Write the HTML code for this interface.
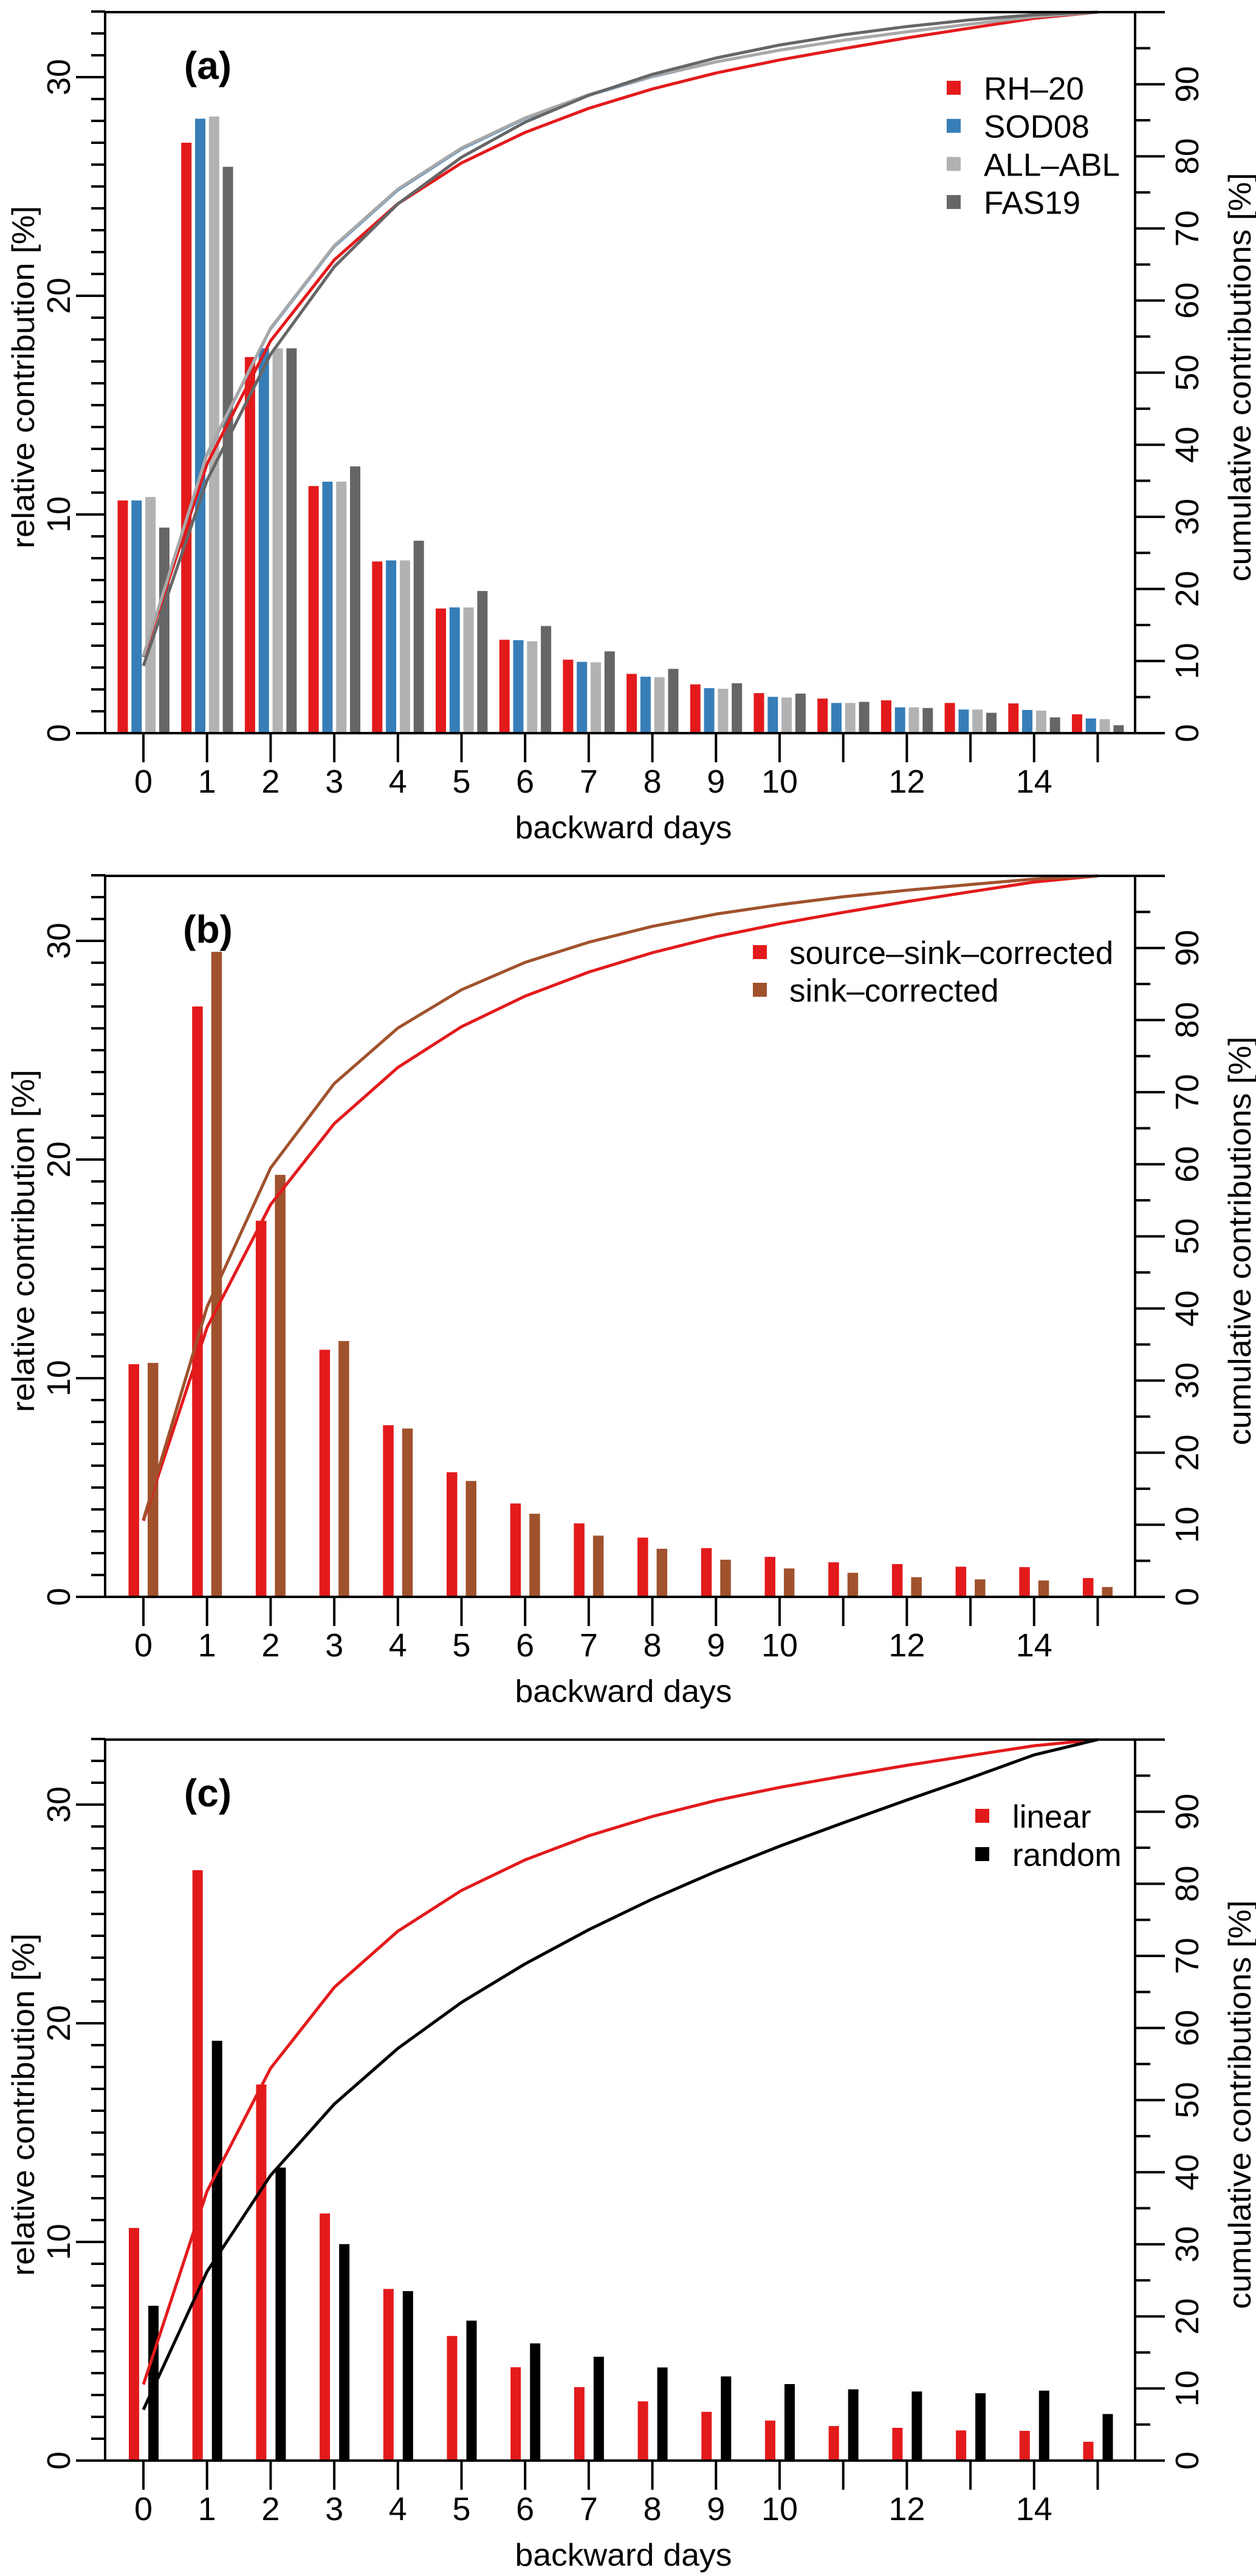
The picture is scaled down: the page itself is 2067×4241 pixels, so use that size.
<!DOCTYPE html>
<html><head><meta charset="utf-8"><title>Backward days contributions</title>
<style>
html,body{margin:0;padding:0;background:#fff;}
svg{display:block;font-family:"Liberation Sans",Arial,sans-serif;}
</style></head>
<body>
<svg id="fig" width="2067" height="4241" viewBox="0 0 2067 4241" xmlns="http://www.w3.org/2000/svg"></svg>
<script>
// ---- data ----
const days = [0,1,2,3,4,5,6,7,8,9,10,11,12,13,14,15];
const xTickLabels = ["0","1","2","3","4","5","6","7","8","9","10","","12","","14",""];
const leftTicks = [0,10,20,30];
const rightTicks = [0,10,20,30,40,50,60,70,80,90];
// panel a
const rh20   = [10.64,27.0,17.2,11.3,7.85,5.7,4.27,3.36,2.71,2.23,1.83,1.58,1.5,1.38,1.36,0.86];
const sod08  = [10.64,28.1,17.6,11.5,7.9,5.75,4.25,3.26,2.58,2.06,1.66,1.38,1.18,1.08,1.06,0.67];
const allabl = [10.8,28.2,17.6,11.5,7.9,5.75,4.2,3.24,2.56,2.03,1.63,1.38,1.18,1.08,1.03,0.64];
const fas19  = [9.4,25.9,17.6,12.2,8.8,6.5,4.9,3.74,2.94,2.28,1.81,1.43,1.15,0.93,0.72,0.36];
// panel b
const sourceSink = [10.64,27.0,17.2,11.3,7.85,5.7,4.27,3.36,2.71,2.23,1.83,1.58,1.5,1.38,1.36,0.86];
const sinkCorr   = [10.7,29.5,19.3,11.7,7.7,5.3,3.8,2.8,2.2,1.7,1.3,1.1,0.9,0.8,0.75,0.45];
// panel c
const linearV = [10.64,27.0,17.2,11.3,7.85,5.7,4.27,3.36,2.71,2.23,1.83,1.58,1.5,1.38,1.36,0.86];
const randomV = [7.08,19.2,13.4,9.9,7.75,6.4,5.36,4.75,4.26,3.85,3.5,3.26,3.16,3.08,3.2,2.13];

const NS = "http://www.w3.org/2000/svg";
const svg = document.getElementById('fig');
function mk(tag, attrs, parent){
  const e = document.createElementNS(NS, tag);
  for (const k in attrs) e.setAttribute(k, attrs[k]);
  (parent||svg).appendChild(e);
  return e;
}
const X0 = 173, X1 = 1868;
function xs(d){ return 236 + 104.7*d; }

function panel(cfg){
  const top = cfg.top, zero = top + 1187;
  const yL = v => zero - 36*v;
  const yR = v => zero - 11.87*v;
  const g = mk('g', {});
  
  

  // bars
  cfg.series.forEach((s, si) => {
    s.vals.forEach((v, i) => {
      const r = mk('rect', {x: xs(days[i]) + cfg.offsets[si], y: yL(v), width: cfg.bw, height: zero - yL(v), fill: s.color}, g);
      
      
    });
  });
  // cumulative lines
  cfg.series.forEach((s) => {
    const tot = s.vals.reduce((a,b)=>a+b,0);
    let c = 0; const pts = [];
    s.vals.forEach((v,i)=>{ c += v; pts.push(xs(days[i]).toFixed(1)+','+yR(100*c/tot).toFixed(1)); });
    const l = mk('polyline', {points: pts.join(' '), fill:'none', stroke: s.lineColor || s.color, 'stroke-width': s.lw || 5, 'stroke-linejoin':'round'}, g);
    
    
  });

  // axes
  const ax = mk('g', {stroke:'#000', 'stroke-width':4, fill:'none'}, g);
  
  
  mk('line', {x1:X0, y1:top, x2:X0, y2:zero}, ax);
  mk('line', {x1:X1, y1:top, x2:X1, y2:zero}, ax);
  mk('line', {x1:X0, y1:top, x2:X1, y2:top}, ax);
  mk('line', {x1:X0, y1:zero, x2:X1, y2:zero}, ax);
  for (let v = 0; v <= 33; v++){
    const major = v % 10 === 0;
    mk('line', {x1: major?125:150, y1: yL(v), x2: X0, y2: yL(v)}, ax);
  }
  for (let v = 0; v <= 100; v += 5){
    const major = v % 10 === 0;
    mk('line', {x1: X1, y1: yR(v), x2: major?1917:1893, y2: yR(v)}, ax);
  }
  days.forEach(d => mk('line', {x1: xs(d), y1: zero, x2: xs(d), y2: zero+48}, ax));

  // tick labels
  leftTicks.forEach(v => {
    const t = mk('text', {x:0, y:0, 'font-size':54, 'text-anchor':'middle', transform:`translate(115,${yL(v)}) rotate(-90)`}, g);
    t.textContent = v;
    
    
  });
  rightTicks.forEach(v => {
    const t = mk('text', {x:0, y:0, 'font-size':54, 'text-anchor':'middle', transform:`translate(1972,${yR(v)}) rotate(-90)`}, g);
    t.textContent = v;
    
    
  });
  days.forEach((d,i) => {
    if (!xTickLabels[i]) return;
    const t = mk('text', {x: xs(d), y: zero+98, 'font-size':54, 'text-anchor':'middle'}, g);
    t.textContent = xTickLabels[i];
    
    
  });

  // titles
  const yt = mk('text', {x:0, y:0, 'font-size':52, 'text-anchor':'middle', textLength:564, lengthAdjust:'spacingAndGlyphs', transform:`translate(56,${top+601}) rotate(-90)`}, g);
  yt.textContent = 'relative contribution [%]';
  
  
  const rt = mk('text', {x:0, y:0, 'font-size':52, 'text-anchor':'middle', textLength:673, lengthAdjust:'spacingAndGlyphs', transform:`translate(2058,${top+601}) rotate(-90)`}, g);
  rt.textContent = 'cumulative contributions [%]';
  
  
  const xt = mk('text', {x:1026, y: top+1360, 'font-size':52, 'text-anchor':'middle', textLength:357, lengthAdjust:'spacingAndGlyphs'}, g);
  xt.textContent = 'backward days';
  
  
  const pl = mk('text', {x:342, y: top+110, 'font-size':64, 'font-weight':'bold', 'text-anchor':'middle'}, g);
  pl.textContent = cfg.label;
  
  

  // legend
  const lg = mk('g', {}, g);
  
  
  cfg.series.forEach((s, si) => {
    const cy = top + cfg.legY + si*cfg.legDy;
    const sq = mk('rect', {x: cfg.legX, y: cy-12, width:23, height:23, fill:s.color}, lg);
    
    
    const t = mk('text', {x: cfg.legX + cfg.legTx, y: cy+19, 'font-size':53}, lg);
    t.textContent = s.label;
    
    
  });
}

panel({name:'panel-a', label:'(a)', top:20, bw:17,
  offsets:[-42.5,-19.7,3.1,25.9],
  legX:1558, legTx:61, legY:125, legDy:62.7,
  series:[
    {key:'rh20', label:'RH\u201320', vals:rh20, color:'#e31a1c'},
    {key:'sod08', label:'SOD08', vals:sod08, color:'#377eb8', lineColor:'#4a8ccb', lw:3},
    {key:'allabl', label:'ALL\u2013ABL', vals:allabl, color:'#b2b2b2', lineColor:'#a8a8a8'},
    {key:'fas19', label:'FAS19', vals:fas19, color:'#666666'}
  ]});
panel({name:'panel-b', label:'(b)', top:1442, bw:17.5,
  offsets:[-24.5,7],
  legX:1239, legTx:60, legY:126, legDy:62,
  series:[
    {key:'source-sink-corrected', label:'source\u2013sink\u2013corrected', vals:sourceSink, color:'#e31a1c'},
    {key:'sink-corrected', label:'sink\u2013corrected', vals:sinkCorr, color:'#a0522d'}
  ]});
panel({name:'panel-c', label:'(c)', top:2864, bw:17,
  offsets:[-24,8],
  legX:1605, legTx:61, legY:126, legDy:63,
  series:[
    {key:'linear', label:'linear', vals:linearV, color:'#e31a1c'},
    {key:'random', label:'random', vals:randomV, color:'#000000'}
  ]});
</script>
</body></html>
